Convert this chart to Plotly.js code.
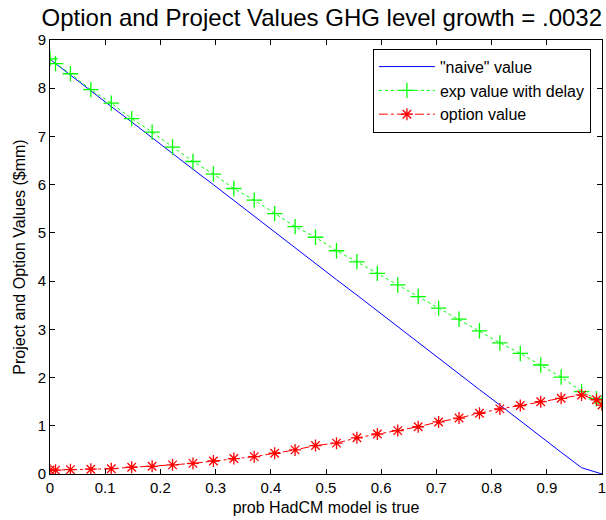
<!DOCTYPE html>
<html>
<head>
<meta charset="utf-8">
<script src="https://cdn.plot.ly/plotly-3.0.1.min.js"></script>
<style>html,body{margin:0;padding:0;background:#fff;}#chart{width:606px;height:520px;}</style>
</head>
<body>
<div id="chart"></div>
<script>
var probX = [0, 0.01, 0.037, 0.074, 0.111, 0.148, 0.185, 0.222, 0.259, 0.296, 0.333, 0.370, 0.407, 0.444, 0.481, 0.519, 0.556, 0.593, 0.630, 0.667, 0.704, 0.741, 0.778, 0.815, 0.852, 0.889, 0.926, 0.963, 0.99, 1.0];
var naiveValue = [8.60, 8.51, 8.27, 7.95, 7.62, 7.30, 6.97, 6.65, 6.32, 6.00, 5.67, 5.34, 5.02, 4.69, 4.37, 4.03, 3.71, 3.38, 3.06, 2.73, 2.40, 2.08, 1.75, 1.43, 1.10, 0.78, 0.45, 0.13, 0.03, 0.00];
var expValueDelay = [8.61, 8.51, 8.30, 7.97, 7.69, 7.37, 7.09, 6.78, 6.48, 6.22, 5.92, 5.68, 5.40, 5.13, 4.91, 4.63, 4.40, 4.16, 3.92, 3.68, 3.44, 3.21, 2.97, 2.72, 2.50, 2.26, 2.01, 1.71, 1.56, 1.47];
var optionValue = [0.08, 0.08, 0.09, 0.10, 0.11, 0.14, 0.16, 0.19, 0.22, 0.27, 0.32, 0.36, 0.43, 0.50, 0.59, 0.64, 0.75, 0.83, 0.90, 0.98, 1.08, 1.16, 1.26, 1.35, 1.42, 1.50, 1.57, 1.64, 1.54, 1.43];
var xTicks = [0, 0.1, 0.2, 0.3, 0.4, 0.5, 0.6, 0.7, 0.8, 0.9, 1];
var yTicks = [0, 1, 2, 3, 4, 5, 6, 7, 8, 9];

var FONT = 'Liberation Sans, Arial, sans-serif';

var traces = [
  {x: probX, y: naiveValue, type: 'scatter', mode: 'lines', name: '"naive" value',
   line: {color: '#0000ff', width: 1}},
  {x: probX, y: expValueDelay, type: 'scatter', mode: 'lines+markers', name: 'exp value with delay',
   line: {color: '#00ff00', width: 1, dash: 'dot'},
   marker: {symbol: 'cross-thin-open', size: 11, color: '#00ff00', line: {color: '#00ff00', width: 1.3}}},
  {x: probX, y: optionValue, type: 'scatter', mode: 'lines+markers', name: 'option value',
   line: {color: '#ff0000', width: 1, dash: 'dashdot'},
   marker: {symbol: 'asterisk-open', size: 10, color: '#ff0000', line: {color: '#ff0000', width: 1.3}}}
];

var axisCommon = {
  showline: true, linecolor: '#000', linewidth: 1, mirror: 'ticks',
  ticks: 'inside', ticklen: 5, tickcolor: '#000', tickwidth: 1,
  showgrid: false, zeroline: false, ticklabeloverflow: 'allow',
  tickfont: {family: FONT, size: 15, color: '#000'}
};

var layout = {
  width: 606, height: 520,
  margin: {l: 50, r: 4, t: 40, b: 46},
  paper_bgcolor: '#fff', plot_bgcolor: '#fff',
  font: {family: FONT, color: '#000'},
  title: {text: 'Option and Project Values GHG level growth = .0032',
          font: {size: 24, color: '#000', family: FONT},
          x: 0.531, xanchor: 'center', y: 0.967, yanchor: 'middle'},
  xaxis: Object.assign({}, axisCommon, {
    range: [0, 1], tickvals: xTicks, ticktext: xTicks.map(String),
    title: {text: 'prob HadCM model is true', font: {size: 16, color: '#000', family: FONT}, standoff: 6}
  }),
  yaxis: Object.assign({}, axisCommon, {
    range: [0, 9], tickvals: yTicks, ticktext: yTicks.map(String),
    title: {text: 'Project and Option Values ($mm)', font: {size: 16, color: '#000', family: FONT}, standoff: 8}
  }),
  showlegend: true,
  legend: {x: 0.585, y: 0.98, xanchor: 'left', yanchor: 'top',
           bgcolor: '#fff', bordercolor: '#000', borderwidth: 1, itemwidth: 56,
           font: {size: 16, color: '#000', family: FONT}, tracegroupgap: 0}
};

Plotly.newPlot('chart', traces, layout, {displayModeBar: false, staticPlot: true});
</script>
</body>
</html>
